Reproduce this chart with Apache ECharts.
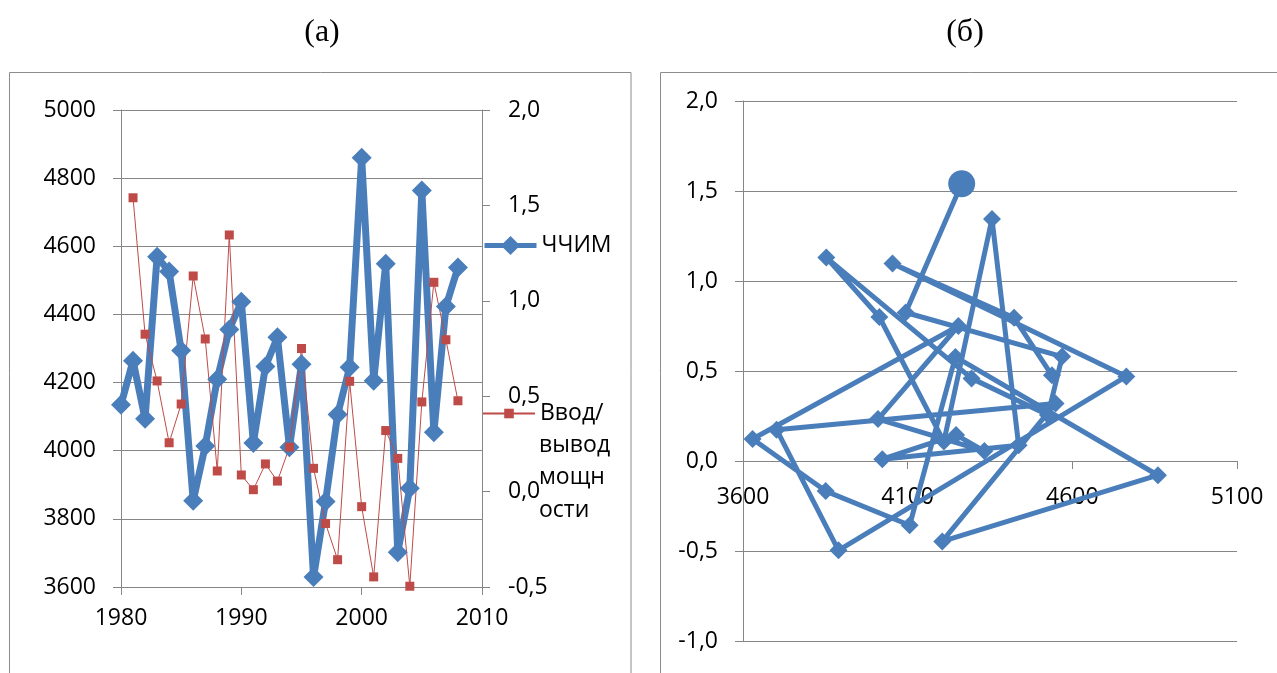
<!DOCTYPE html>
<html>
<head>
<meta charset="utf-8">
<script src="https://cdn.jsdelivr.net/npm/echarts@6/dist/echarts.min.js"></script>
<style>
  html, body { margin: 0; padding: 0; background: #fff; }
  #chart { width: 1277px; height: 673px; }
</style>
</head>
<body>
<div id="chart"></div>
<script>
// годы наблюдений
var years = [1980, 1981, 1982, 1983, 1984, 1985, 1986, 1987, 1988, 1989,
             1990, 1991, 1992, 1993, 1994, 1995, 1996, 1997, 1998, 1999,
             2000, 2001, 2002, 2003, 2004, 2005, 2006, 2007, 2008];
// ЧЧИМ (левая ось)
var chchim = [4135, 4264, 4094, 4569, 4526, 4294, 3853, 4014, 4210, 4356,
              4437, 4023, 4247, 4333, 4010, 4254, 3629, 3851, 4106, 4245,
              4860, 4205, 4549, 3702, 3890, 4764, 4054, 4423, 4538];
// ввод/вывод мощности (правая ось), за 1980 нет значения
var power = [null, 1.54, 0.825, 0.58, 0.256, 0.459, 1.13, 0.80, 0.108, 1.345,
             0.087, 0.01, 0.145, 0.055, 0.233, 0.75, 0.122, -0.167, -0.357, 0.578,
             -0.079, -0.447, 0.32, 0.174, -0.496, 0.47, 1.097, 0.796, 0.476];

var leftTicks = [3600, 5000, 200];
var rightTicks = [-0.5, 2.0, 0.5];
var yearTicks = [1980, 2010, 10];
var phaseX = [3600, 5100, 500];
var phaseY = [-1.0, 2.0, 0.5];

var BLUE = '#4A7EBB';
var RED = '#BE4B48';
var GRAY = '#868686';
var FONT = 'Open Sans';

var comma = function (v) { return v.toFixed(1).replace('.', ','); };
var plain = function (v) { return String(v); };

var lineData = years.map(function (y, i) { return [y, chchim[i]]; });
var powerData = [];
var phaseData = [];
years.forEach(function (y, i) {
  if (power[i] === null) return;
  powerData.push([y, power[i]]);
  // фазовая траектория: первая точка отмечена кружком
  phaseData.push(phaseData.length === 0
    ? { value: [chchim[i], power[i]], symbol: 'circle', symbolSize: 27 }
    : [chchim[i], power[i]]);
});

function label(margin, fmt) {
  return { color: '#000', fontFamily: FONT, fontSize: 23, margin: margin, formatter: fmt };
}

function axisBase(extra) {
  var a = {
    type: 'value',
    axisLine: { show: true, onZero: false, lineStyle: { color: GRAY, width: 1 } },
    axisTick: { show: true, inside: false, length: 8, lineStyle: { color: GRAY } },
    splitLine: { show: false }
  };
  for (var k in extra) a[k] = extra[k];
  return a;
}

var chart = echarts.init(document.getElementById('chart'));
chart.setOption({
  animation: false,
  backgroundColor: '#fff',
  graphic: [
    { type: 'rect', shape: { x: 9.5, y: 72.5, width: 621.5, height: 700 },
      style: { fill: 'none', stroke: '#8c8c8c', lineWidth: 1 } },
    { type: 'rect', shape: { x: 660.5, y: 72.5, width: 700, height: 700 },
      style: { fill: 'none', stroke: '#8c8c8c', lineWidth: 1 } },
    { type: 'text', x: 322, y: 33,
      style: { text: '(а)', align: 'center', verticalAlign: 'middle',
               font: '32px "Liberation Serif"', fill: '#000' } },
    { type: 'text', x: 965, y: 33,
      style: { text: '(б)', align: 'center', verticalAlign: 'middle',
               font: '32px "Liberation Serif"', fill: '#000' } },
    // продолжение подписи легенды «Ввод/вывод мощности»
    { type: 'text', x: 539, y: 429,
      style: { text: 'вывод\nмощн\nости', align: 'left', verticalAlign: 'top',
               font: '23px "Open Sans"', lineHeight: 32.5, fill: '#000' } }
  ],
  legend: [
    {
      data: ['ЧЧИМ'],
      left: 482, top: 234, padding: 0,
      itemWidth: 52, itemHeight: 24,
      lineStyle: { width: 5 },
      textStyle: { color: '#000', fontFamily: FONT, fontSize: 23 }
    },
    {
      data: ['Ввод/вывод мощности'],
      left: 482, top: 402, padding: 0,
      itemWidth: 52, itemHeight: 12,
      formatter: function () { return 'Ввод/'; },
      textStyle: { color: '#000', fontFamily: FONT, fontSize: 23 }
    }
  ],
  grid: [
    { left: 121, top: 110, width: 361, height: 477, outerBoundsMode: 'none', containLabel: false },
    { left: 743, top: 101, width: 494, height: 540, outerBoundsMode: 'none', containLabel: false }
  ],
  xAxis: [
    axisBase({ gridIndex: 0, min: yearTicks[0], max: yearTicks[1], interval: yearTicks[2],
               axisLabel: label(20, plain) }),
    // ось X фазовой диаграммы проходит через ноль
    axisBase({ gridIndex: 1, min: phaseX[0], max: phaseX[1], interval: phaseX[2],
               offset: -180, axisLabel: label(25, plain) })
  ],
  yAxis: [
    axisBase({ gridIndex: 0, position: 'left', min: leftTicks[0], max: leftTicks[1], interval: leftTicks[2],
               axisLabel: label(25, plain),
               splitLine: { show: true, lineStyle: { color: GRAY, width: 1 } } }),
    axisBase({ gridIndex: 0, position: 'right', min: rightTicks[0], max: rightTicks[1], interval: rightTicks[2],
               axisLabel: label(26, comma) }),
    axisBase({ gridIndex: 1, position: 'left', min: phaseY[0], max: phaseY[1], interval: phaseY[2],
               axisLabel: label(25, comma),
               splitLine: { show: true, lineStyle: { color: GRAY, width: 1 } } })
  ],
  series: [
    {
      name: 'ЧЧИМ', type: 'line', xAxisIndex: 0, yAxisIndex: 0,
      data: lineData,
      symbol: 'diamond', symbolSize: 20,
      lineStyle: { color: BLUE, width: 7 },
      itemStyle: { color: BLUE }
    },
    {
      name: 'Ввод/вывод мощности', type: 'line', xAxisIndex: 0, yAxisIndex: 1,
      data: powerData,
      symbol: 'rect', symbolSize: 9,
      lineStyle: { color: RED, width: 1 },
      itemStyle: { color: RED }
    },
    {
      name: 'фазовая траектория', type: 'line', xAxisIndex: 1, yAxisIndex: 2,
      data: phaseData,
      symbol: 'diamond', symbolSize: 18,
      lineStyle: { color: BLUE, width: 5 },
      itemStyle: { color: BLUE }
    }
  ]
});
</script>
</body>
</html>
